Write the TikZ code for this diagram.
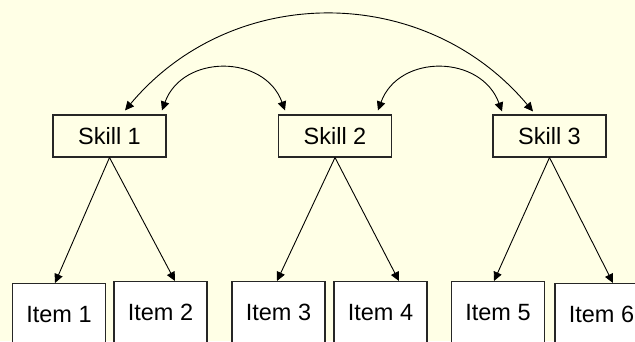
\documentclass[tikz,border=0pt]{standalone}
\usepackage{fontspec}
\setmainfont{Liberation Sans}
\usetikzlibrary{arrows.meta,calc}

\definecolor{cream}{RGB}{255,255,230}

\begin{document}
\begin{tikzpicture}[x=1pt, y=1pt, >={Triangle[length=9pt,width=8.5pt]}]
		\fontsize{23.5}{28}\selectfont
		\tikzstyle{skill_block} = [draw=black!85, line width=1.1, rectangle, minimum width = 113, minimum height = 42, inner sep=0];
		\tikzstyle{item_block} = [draw=black!85, line width=1.1, fill=white, rectangle, anchor=north, minimum width = 93, minimum height = 62, inner sep=0];
		\tikzstyle{link} = [line width=0.9];

		\useasboundingbox (0,0) rectangle (635,341);
		\fill[cream] (0,0) rectangle (635,341);
		\clip (0,0) rectangle (635,341);

		\node[skill_block] (skill1) at (109.5,205) {Skill 1};
		\node[skill_block] (skill2) at (335,205) {Skill 2};
		\node[skill_block] (skill3) at (549.5,205) {Skill 3};

		\node[item_block] (item1) at (59,58) {Item 1};
		\node[item_block] (item2) at (160.5,60) {Item 2};
		\node[item_block] (item3) at (278.5,60) {Item 3};
		\node[item_block] (item4) at (380.5,60) {Item 4};
		\node[item_block] (item5) at (498,60) {Item 5};
		\node[item_block] (item6) at (601.5,58) {Item 6};

		% each skill points down to its two items
		\draw[link,->] (skill1.south) -- ([xshift=-4]item1.north);
		\draw[link,->] (skill1.south) -- ([xshift=14.5]item2.north);
		\draw[link,->] (skill2.south) -- ([xshift=-1.5]item3.north);
		\draw[link,->] (skill2.south) -- ([xshift=18.5]item4.north);
		\draw[link,->] (skill3.south) -- ([xshift=-4]item5.north);
		\draw[link,->] (skill3.south) -- ([xshift=11.5]item6.north);

		% correlations between skills
		\draw[link,<->] ([xshift=52.5,yshift=4]skill1.north) to[out=70,in=110,looseness=1.25] ([xshift=-50,yshift=4]skill2.north);
		\draw[link,<->] ([xshift=43,yshift=4]skill2.north) to[out=70,in=110,looseness=1.25] ([xshift=-47.5,yshift=3]skill3.north);
		\draw[link,<->] ([xshift=15.5,yshift=4]skill1.north) to[out=50,in=130,looseness=1.05] ([xshift=-16.5,yshift=3]skill3.north);
	\end{tikzpicture}
\end{document}
